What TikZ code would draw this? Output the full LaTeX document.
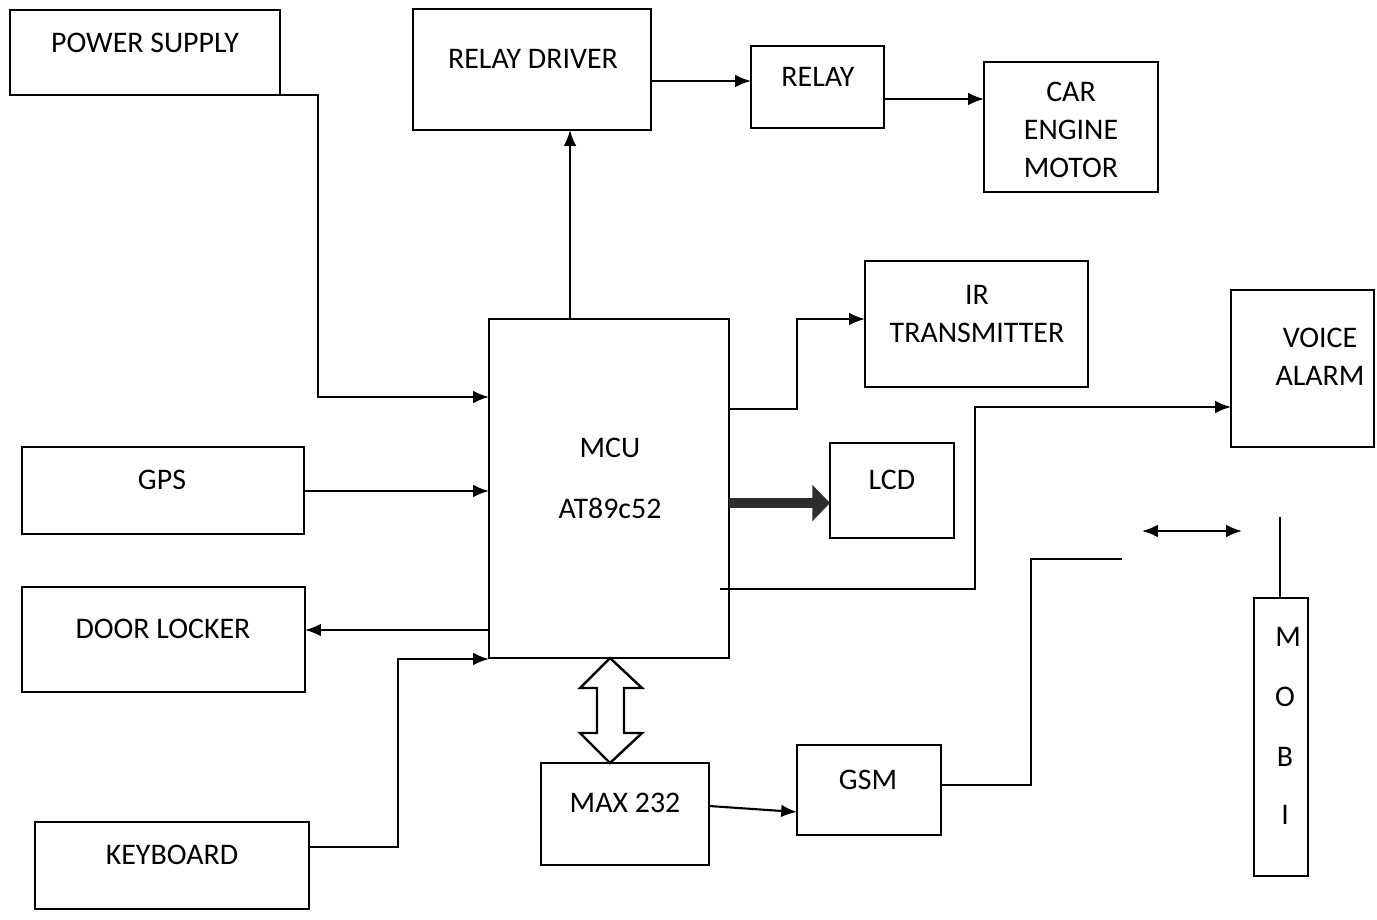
\documentclass[tikz,border=0pt]{standalone}
\usepackage{fontspec}
\setmainfont{Carlito}
\usetikzlibrary{arrows.meta,fit,calc}
\begin{document}
\begin{tikzpicture}[x=0.01cm,y=-0.01cm,
  box/.style={draw,line width=0.75pt,inner sep=0pt,outer sep=0pt,rectangle},
  txt/.style={inner sep=0pt,font=\fontsize{8.5}{10}\selectfont},
  conn/.style={line width=0.6pt},
  arr/.style={conn,-{Latex[length=4.5pt,width=3.6pt]}},
  darr/.style={conn,{Latex[length=4.5pt,width=3.6pt]}-{Latex[length=4.5pt,width=3.6pt]}}]
\useasboundingbox (0,0) rectangle (1377,919);
% boxes
\node[box,fit={(10,10)(280,95)}] (ps) {};
\node[txt] (psT) at (145,43) {POWER SUPPLY};
\node[box,fit={(413,9)(651,130)}] (rd) {};
\node[txt] (rdT) at (533,59) {RELAY DRIVER};
\node[box,fit={(751,46)(884,128)}] (rl) {};
\node[txt] (rlT) at (818,77) {RELAY};
\node[box,fit={(984,62)(1158,192)}] (car) {};
\node[txt,align=center,font=\fontsize{8.5}{10.7}\selectfont] (carT) at (1071,130) {CAR\\ENGINE\\MOTOR};
\node[box,fit={(489,319)(729,658)}] (mcu) {};
\node[txt] (mcuT1) at (610,448) {MCU};
\node[txt] (mcuT2) at (610,508) {AT89c52};
\node[box,fit={(865,261)(1088,387)}] (ir) {};
\node[txt,align=center,font=\fontsize{8.5}{10.7}\selectfont] (irT) at (977,314) {IR\\TRANSMITTER};
\node[box,fit={(1231,290)(1374,447)}] (va) {};
\node[txt,align=center,font=\fontsize{8.5}{10.7}\selectfont] (vaT) at (1320,357) {VOICE\\ALARM};
\node[box,fit={(830,443)(954,538)}] (lcd) {};
\node[txt] (lcdT) at (892,480) {LCD};
\node[box,fit={(22,447)(304,534)}] (gps) {};
\node[txt] (gpsT) at (162,480) {GPS};
\node[box,fit={(22,587)(305,692)}] (dl) {};
\node[txt] (dlT) at (163,629) {DOOR LOCKER};
\node[box,fit={(35,822)(309,909)}] (kb) {};
\node[txt] (kbT) at (172,855) {KEYBOARD};
\node[box,fit={(541,763)(709,865)}] (max) {};
\node[txt] (maxT) at (625,803) {MAX 232};
\node[box,fit={(797,745)(941,835)}] (gsm) {};
\node[txt] (gsmT) at (868,780) {GSM};
\node[box,fit={(1254,598)(1308,876)}] (mob) {};
\node[txt] (m1) at (1288,637) {M};
\node[txt] (m2) at (1285,697) {O};
\node[txt] (m3) at (1285,757) {B};
\node[txt] (m4) at (1285,815) {I};
\coordinate (gsmEnd) at (1122,559);
\coordinate (wl1) at (1142,531);
\coordinate (wl2) at (1242,531);
\coordinate (ant) at (1280,517);
\coordinate (vaStart) at (720,589);
% connectors
\draw[arr] (ps.south east) -- (318,95) -- (318,397) -- (mcu.west |- 0,397);
\draw[arr] (mcu.north -| 570,0) -- (rd.south -| 570,0);
\draw[arr] (rd.east |- 0,81) -- (rl.west |- 0,81);
\draw[arr] (rl.east |- 0,99) -- (car.west |- 0,99);
\draw[arr] (mcu.east |- 0,409) -- (797,409) -- (797,319) -- (ir.west |- 0,319);
\draw[arr] (vaStart) -- (975,589) -- (975,407) -- (va.west |- 0,407);
\draw[line width=2.9pt,gray!35!black,-{Triangle[length=5pt,width=10pt]}] (mcu.east |- 0,503) -- (lcd.west |- 0,503);
\draw[arr] (gps.east |- 0,491) -- (mcu.west |- 0,491);
\draw[arr] (mcu.west |- 0,630) -- (dl.east |- 0,630);
\draw[arr] (kb.east |- 0,847) -- (398,847) -- (398,659) -- (mcu.west |- 0,659);
\draw[arr] (max.east |- 0,806) -- (gsm.west |- 0,812);
\draw[conn] (gsm.east |- 0,785) -- (1031,785) -- (1031,559) -- (gsmEnd);
\draw[darr] (wl1) -- (wl2);
\draw[conn] (mob.north -| 1280,0) -- (ant);
% block double arrow MCU <-> MAX232
\draw[line width=0.7pt,fill=white] (mcu.south -| 610,0) -- (642,688) -- (624,688) -- (624,733) -- (642,733) -- (max.north -| 610,0) -- (580,733) -- (597,733) -- (597,688) -- (580,688) -- cycle;
\end{tikzpicture}
\end{document}
